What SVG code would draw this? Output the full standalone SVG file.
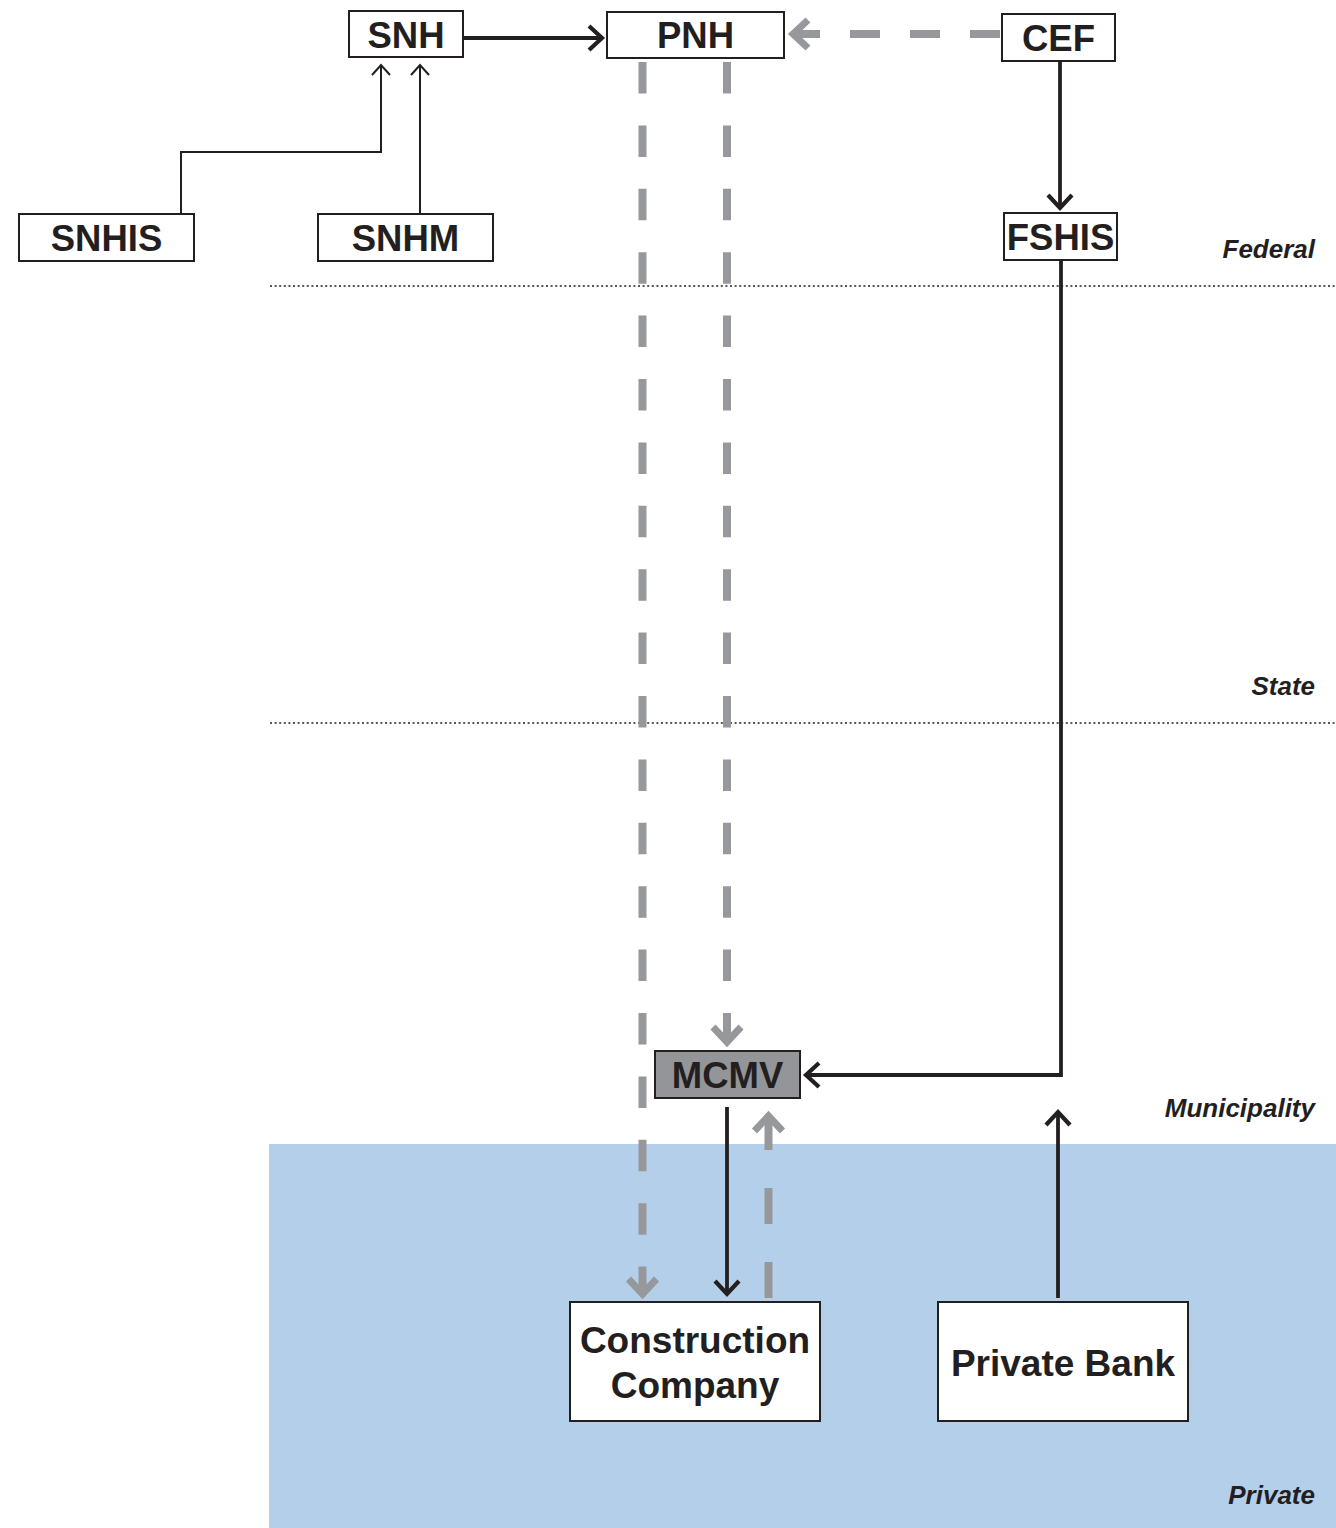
<svg xmlns="http://www.w3.org/2000/svg" width="1336" height="1528" viewBox="0 0 1336 1528">
<style>
.box{fill:#fff;stroke:#231f20;stroke-width:2}
.lbl{font-family:"Liberation Sans",Arial,sans-serif;font-weight:bold;fill:#231f20;text-anchor:middle}
.node{font-size:36.5px}
.big{font-size:37px}
.tier{font-family:"Liberation Sans",Arial,sans-serif;font-weight:bold;font-style:italic;font-size:26px;fill:#231f20;text-anchor:end}
.blk{fill:none;stroke:#231f20;stroke-width:3.8}
.thin{fill:none;stroke:#231f20;stroke-width:2}
.gry{fill:none;stroke:#96989b;stroke-width:8}
.dot{fill:none;stroke:#231f20;stroke-width:1.5;stroke-dasharray:2 2.6}
</style>
<defs>
<marker id="aBlk" markerUnits="userSpaceOnUse" markerWidth="1" markerHeight="1" orient="auto" overflow="visible">
<path d="M-13,-12 L0,0 L-13,12" fill="none" stroke="#231f20" stroke-width="4.2"/>
</marker>
<marker id="aThin" markerUnits="userSpaceOnUse" markerWidth="1" markerHeight="1" orient="auto" overflow="visible">
<path d="M-10,-9 L0,0 L-10,9" fill="none" stroke="#231f20" stroke-width="2"/>
</marker>
<marker id="aGry" markerUnits="userSpaceOnUse" markerWidth="1" markerHeight="1" orient="auto" overflow="visible">
<path d="M-15,-14 L0,0 L-15,14" fill="none" stroke="#96989b" stroke-width="7"/>
</marker>
</defs>
<rect width="1336" height="1528" fill="#fff"/>
<rect x="269" y="1144" width="1067" height="384" fill="#b4cfe9"/>
<g id="tiers">
<line class="dot" x1="270" y1="286" x2="1336" y2="286"/>
<line class="dot" x1="270" y1="723" x2="1336" y2="723"/>
<text class="tier" x="1315" y="258">Federal</text>
<text class="tier" x="1315" y="695">State</text>
<text class="tier" x="1315" y="1117">Municipality</text>
<text class="tier" x="1315" y="1504">Private</text>
</g>
<g id="connectors">
<path class="gry" d="M642.5,62 V1294" style="stroke-dasharray:31.5 31.9" marker-end="url(#aGry)"/>
<path class="gry" d="M727,62 V1042" style="stroke-dasharray:31.5 31.9" marker-end="url(#aGry)"/>
<path class="gry" d="M1000,34 H793" style="stroke-dasharray:30 30" marker-end="url(#aGry)"/>
<path class="gry" d="M768.5,1298 V1116" style="stroke-dasharray:36 38" marker-end="url(#aGry)"/>
<path class="blk" d="M463,38 H602" marker-end="url(#aBlk)"/>
<path class="blk" d="M1060,61 V208" marker-end="url(#aBlk)"/>
<path class="blk" d="M1061,261 V1075 H806" marker-end="url(#aBlk)"/>
<path class="blk" d="M727,1107 V1294" marker-end="url(#aBlk)"/>
<path class="blk" d="M1058,1298 V1112" marker-end="url(#aBlk)"/>
<path class="thin" d="M181,213 V152 H381 V65" marker-end="url(#aThin)"/>
<path class="thin" d="M420,213 V65" marker-end="url(#aThin)"/>
</g>
<g id="SNH"><rect class="box" x="349" y="11" width="114" height="46"/><text class="lbl node" x="406" y="48">SNH</text></g>
<g id="PNH"><rect class="box" x="607" y="12" width="177" height="46"/><text class="lbl node" x="695.5" y="48">PNH</text></g>
<g id="CEF"><rect class="box" x="1002" y="14" width="113" height="47"/><text class="lbl node" x="1058.5" y="51">CEF</text></g>
<g id="SNHIS"><rect class="box" x="19" y="214" width="175" height="47"/><text class="lbl node" x="106.5" y="251">SNHIS</text></g>
<g id="SNHM"><rect class="box" x="318" y="214" width="175" height="47"/><text class="lbl node" x="405.5" y="251">SNHM</text></g>
<g id="FSHIS"><rect class="box" x="1004" y="213" width="113" height="47"/><text class="lbl node" x="1060.5" y="250">FSHIS</text></g>
<g id="MCMV"><rect x="655" y="1051" width="145" height="47" fill="#939598" stroke="#231f20" stroke-width="2"/><text class="lbl node" x="727.5" y="1088">MCMV</text></g>
<g id="ConstructionCompany"><rect class="box" x="570" y="1302" width="250" height="119"/><text class="lbl big" x="695" y="1353">Construction</text><text class="lbl big" x="695" y="1398">Company</text></g>
<g id="PrivateBank"><rect class="box" x="938" y="1302" width="250" height="119"/><text class="lbl big" x="1063" y="1376">Private Bank</text></g>
</svg>
